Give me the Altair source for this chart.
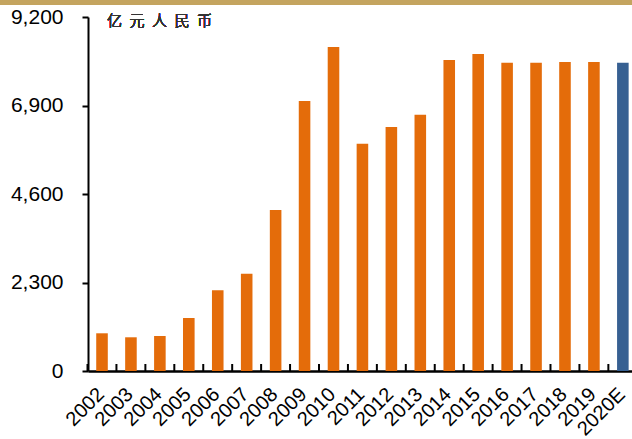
import altair as alt
import pandas as pd

years = ["2002", "2003", "2004", "2005", "2006", "2007", "2008", "2009", "2010",
         "2011", "2012", "2013", "2014", "2015", "2016", "2017", "2018", "2019", "2020E"]
values = [980, 876, 910, 1377, 2097, 2529, 4184, 7017, 8420,
          5905, 6341, 6660, 8082, 8238, 8012, 8012, 8030, 8030, 8012]
kinds = ["实际"] * 18 + ["预测"]
y_ticks = [0, 2300, 4600, 6900, 9200]
unit_label = "亿\u2002元\u2002人\u2002民\u2002币"

df = pd.DataFrame({"year": years, "value": values, "kind": kinds})

W, H = 544, 354
FONT = "Liberation Sans"

xscale = alt.Scale(paddingInner=0.6, paddingOuter=0.2, align=0.71)
yscale = alt.Scale(domain=[0, 9200], nice=False)
yaxis = alt.Axis(title=None, values=y_ticks, format=",.0f", labelFont=FONT,
                 labelFontSize=21, labelColor="black", labelPadding=19,
                 tickSize=6, tickColor="black", tickWidth=2,
                 domainColor="black", domainWidth=2, grid=False)
xaxis = alt.Axis(title=None, labelAngle=-45, labelAlign="right",
                 labelBaseline="middle", labelFont=FONT, labelFontSize=20,
                 labelColor="black", labelPadding=20, labelOffset=-1,
                 ticks=False, domainColor="black", domainWidth=2.5)

bars = alt.Chart(df).mark_bar().encode(
    x=alt.X("year:N", sort=years, scale=xscale, axis=xaxis),
    y=alt.Y("value:Q", scale=yscale, axis=yaxis),
    color=alt.Color("kind:N", scale=alt.Scale(domain=["实际", "预测"],
                                              range=["#E46C0A", "#376092"]),
                    legend=None),
)

# small inward tick marks between the bars
ticks_layer = alt.Chart(df).mark_rule(color="black", strokeWidth=2, xOffset=-14.5).encode(
    x=alt.X("year:N", sort=years, scale=xscale, axis=xaxis),
    y=alt.value(H - 7),
    y2=alt.value(H),
)

unit = alt.Chart(df).mark_text(
    text=unit_label, font="Noto Sans CJK SC", fontSize=15, fontWeight=300,
    color="#333333", align="left", baseline="middle"
).encode(x=alt.value(19), y=alt.value(4))

band = alt.Chart(df).mark_rect(color="#C4A45F").encode(
    x=alt.value(-88), x2=alt.value(W), y=alt.value(-17), y2=alt.value(-12)
)

chart = alt.layer(bars, ticks_layer, unit, band).properties(
    width=W, height=H,
    autosize=alt.AutoSizeParams(type="none"),
    padding={"left": 88, "top": 17, "right": 0, "bottom": 68},
    background="white",
).configure_view(stroke=None)

chart.save("out.html", embed_options={"renderer": "svg", "actions": False})
